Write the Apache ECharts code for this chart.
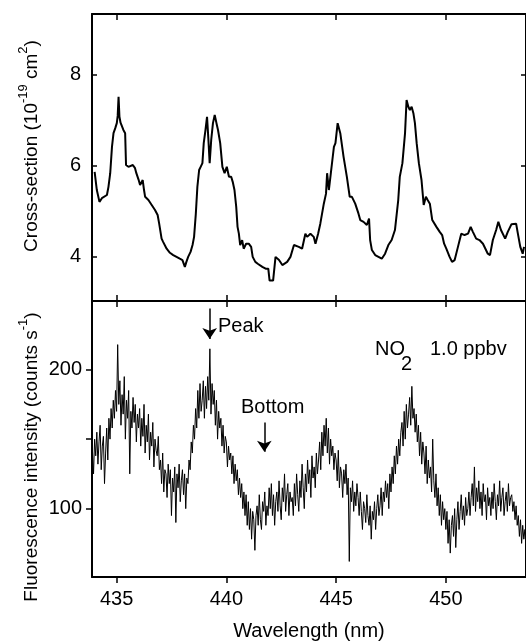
<!DOCTYPE html>
<html>
<head>
<meta charset="utf-8">
<script src="https://cdn.jsdelivr.net/npm/echarts@6/dist/echarts.min.js"></script>
<style>
  html, body { margin: 0; padding: 0; background: #fff; }
  #chart { width: 526px; height: 644px; }
</style>
</head>
<body>
<div id="chart"></div>
<script>
// NO2 absorption cross-section (top panel)
const csWl = [
  434.0, 434.1, 434.22, 434.33, 434.56, 434.63, 434.71, 434.79, 434.86, 434.94,
  435.01, 435.05, 435.09, 435.13, 435.18, 435.31, 435.39, 435.43, 435.54, 435.62,
  435.74, 435.84, 435.9, 436.0, 436.07, 436.19, 436.25, 436.3, 436.37, 436.45,
  436.6, 436.75, 436.87, 436.94, 437.05, 437.12, 437.28, 437.43, 437.58, 437.73,
  437.88, 438.0, 438.11, 438.18, 438.26, 438.37, 438.46, 438.53, 438.61, 438.68,
  438.76, 438.83, 438.91, 438.97, 439.05, 439.12, 439.18, 439.24, 439.31, 439.39,
  439.47, 439.55, 439.62, 439.72, 439.82, 439.92, 440.02, 440.12, 440.22, 440.29,
  440.37, 440.45, 440.51, 440.57, 440.63, 440.72, 440.79, 440.9, 441.02, 441.13,
  441.2, 441.32, 441.43, 441.64, 441.79, 441.91, 441.97, 442.13, 442.24, 442.4,
  442.55, 442.77, 442.92, 443.08, 443.15, 443.3, 443.45, 443.6, 443.68, 443.83,
  443.98, 444.06, 444.18, 444.28, 444.44, 444.54, 444.59, 444.67, 444.76, 444.83,
  444.9, 444.97, 445.07, 445.19, 445.34, 445.49, 445.62, 445.72, 445.87, 446.02,
  446.1, 446.25, 446.4, 446.5, 446.55, 446.63, 446.78, 446.93, 447.08, 447.23,
  447.38, 447.53, 447.68, 447.83, 447.9, 448.02, 448.14, 448.21, 448.29, 448.36,
  448.44, 448.52, 448.59, 448.67, 448.77, 448.89, 448.99, 449.09, 449.17, 449.27,
  449.38, 449.57, 449.72, 449.83, 449.92, 450.02, 450.17, 450.28, 450.4, 450.55,
  450.7, 450.85, 451.01, 451.13, 451.23, 451.38, 451.53, 451.69, 451.76, 451.91,
  452.01, 452.14, 452.29, 452.39, 452.51, 452.7, 452.82, 452.99, 453.2, 453.28,
  453.39, 453.5, 453.56
];
const csVal = [
  5.87, 5.47, 5.21, 5.29, 5.36, 5.54, 5.84, 6.42, 6.72, 6.83,
  6.94, 7.1, 7.52, 7.08, 6.95, 6.79, 6.72, 6.02, 5.98, 5.95,
  6.02, 5.95, 5.84, 5.7, 5.58, 5.69, 5.47, 5.32, 5.36, 5.25,
  5.14, 5.03, 4.92, 4.73, 4.4, 4.33, 4.18, 4.09, 4.04, 4.0,
  3.96, 3.93, 3.78, 3.89, 4.0, 4.11, 4.26, 4.44, 4.95, 5.54,
  5.91, 5.98, 6.06, 6.5, 6.79, 7.08, 6.6, 6.06, 6.57, 6.94,
  7.12, 6.94, 6.79, 6.5, 5.98, 5.84, 5.98, 5.76, 5.76, 5.65,
  5.47, 5.1, 4.66, 4.51, 4.26, 4.37, 4.18, 4.29, 4.29, 4.22,
  4.0, 3.89, 3.85, 3.78, 3.74, 3.74, 3.48, 3.48, 4.0, 3.93,
  3.82, 3.89, 4.0, 4.26, 4.22, 4.22, 4.18, 4.51, 4.44, 4.51,
  4.44, 4.29, 4.51, 4.73, 5.17, 5.39, 5.84, 5.47, 5.84, 6.13,
  6.42, 6.5, 6.94, 6.72, 6.2, 5.76, 5.32, 5.32, 5.17, 4.95,
  4.81, 4.77, 4.7, 4.84, 4.37, 4.15, 4.04, 4.0, 3.96, 4.07,
  4.26, 4.37, 4.59, 5.25, 5.76, 6.06, 6.72, 7.45, 7.3, 7.23,
  7.3, 7.16, 6.94, 6.5, 6.06, 5.69, 5.14, 5.32, 5.25, 5.17,
  4.81, 4.66, 4.55, 4.48, 4.29, 4.18, 4.0, 3.89, 3.93, 4.22,
  4.51, 4.48, 4.51, 4.66, 4.55, 4.4, 4.37, 4.29, 4.33, 4.07,
  4.04, 4.37, 4.59, 4.77, 4.59, 4.4, 4.55, 4.72, 4.73, 4.51,
  4.22, 4.07, 4.22
];

// fluorescence signal (bottom panel), one reading every 0.05 nm from 433.90 nm
const flStart = 433.9;
const flStep = 0.05;
const flVal = [
  142, 125,
  150, 138, 155, 132, 148, 160, 128, 145, 152, 118, 140, 158, 135, 165, 150, 172, 158, 178, 165, 185,
  170, 218, 175, 192, 160, 182, 168, 195, 150, 178, 165, 185, 125, 170, 158, 180, 162, 175, 148, 168,
  158, 172, 145, 165, 152, 175, 140, 160, 148, 168, 135, 155, 145, 162, 130, 150, 142, 138, 152, 128,
  135, 118, 140, 112, 128, 125, 108, 132, 118, 128, 95, 122, 112, 130, 90, 125, 115, 132, 105, 120,
  128, 110, 125, 100, 122, 118, 135, 128, 148, 140, 160, 150, 172, 158, 185, 165, 190, 170, 178, 192,
  165, 188, 172, 195, 178, 215, 168, 190, 175, 185, 160, 178, 150, 170, 158, 165, 145, 160, 140, 152,
  148, 130, 145, 135, 140, 125, 138, 118, 132, 120, 128, 110, 122, 108, 118, 100, 112, 95, 110, 88,
  105, 85, 100, 78, 98, 92, 70, 95, 102, 88, 110, 92, 85, 105, 98, 112, 88, 102, 95, 115,
  100, 118, 95, 110, 88, 105, 112, 98, 120, 102, 92, 115, 105, 125, 98, 110, 118, 95, 112, 105,
  108, 95, 118, 102, 125, 110, 98, 120, 108, 132, 115, 100, 125, 112, 135, 118, 128, 108, 138, 122,
  130, 115, 140, 125, 135, 148, 128, 155, 138, 160, 145, 165, 140, 158, 132, 150, 138, 145, 128, 140,
  135, 120, 142, 115, 130, 125, 108, 128, 118, 132, 110, 122, 62, 115, 105, 120, 98, 112, 102, 118,
  108, 95, 112, 98, 85, 105, 100, 90, 110, 95, 88, 102, 78, 98, 92, 105, 85, 100, 110, 95,
  102, 115, 95, 112, 105, 120, 108, 118, 100, 125, 112, 130, 118, 138, 125, 145, 132, 150, 138, 155,
  162, 145, 170, 150, 175, 158, 168, 180, 160, 188, 165, 172, 155, 168, 148, 160, 138, 155, 132, 148,
  140, 125, 145, 118, 135, 122, 130, 112, 150, 120, 108, 125, 102, 115, 95, 110, 88, 105, 92, 100,
  85, 98, 75, 92, 68, 88, 95, 80, 100, 72, 92, 105, 85, 98, 110, 92, 102, 88, 108, 95,
  100, 112, 95, 108, 118, 102, 130, 98, 115, 105, 120, 100, 112, 95, 118, 105, 110, 92, 115, 102,
  108, 95, 112, 100, 118, 105, 92, 110, 102, 120, 98, 108, 115, 95, 105, 112, 98, 118, 102, 108,
  110, 98, 105, 92, 102, 88, 95, 80, 92, 75, 88, 78, 85, 72, 82
];

const xTicks = [435, 440, 445, 450];
const csTicks = [4, 6, 8];
const flTicks = [100, 150, 200];
const flLabels = [100, 200];
// annotation arrows: [wavelength, counts] from -> to
const peakArrow = [[439.24, 244], [439.24, 222]];
const bottomArrow = [[441.73, 162], [441.73, 141]];

const FONT = '"Liberation Sans", Arial, sans-serif';
const INK = '#000';
const X_MIN = 433.88, X_MAX = 453.65;

const line = { lineStyle: { color: INK, width: 2 } };

function xAxis(grid, pos, opts) {
  return Object.assign({
    type: 'value', gridIndex: grid, position: pos, min: X_MIN, max: X_MAX,
    axisLine: line, splitLine: { show: false },
    axisTick: { inside: true, length: 6, customValues: xTicks, lineStyle: { color: INK, width: 1.5 } },
    axisLabel: { show: false },
  }, opts);
}

function yAxis(grid, pos, min, max, opts) {
  return Object.assign({
    type: 'value', gridIndex: grid, position: pos, min: min, max: max,
    axisLine: line, splitLine: { show: false },
    axisTick: { show: false },
    axisLabel: { show: false },
  }, opts);
}

// rotated y-axis titles with superscripts
const titleRich = {
  m: { fontFamily: FONT, fontSize: 19, lineHeight: 24, verticalAlign: 'bottom' },
  s: { fontFamily: FONT, fontSize: 13, lineHeight: 16, verticalAlign: 'top' },
};

const chart = echarts.init(document.getElementById('chart'), null, { renderer: 'canvas' });

const labelStyle = { color: INK, fontFamily: FONT, fontSize: 20 };

chart.setOption({
  animation: false,
  backgroundColor: '#fff',
  grid: [
    { left: 92, top: 14, width: 436, height: 287 },
    { left: 92, top: 301, width: 436, height: 276 },
  ],
  xAxis: [
    xAxis(0, 'bottom'),
    xAxis(0, 'top'),
    xAxis(1, 'bottom', {
      axisTick: { inside: false, length: 6, customValues: xTicks, lineStyle: { color: INK, width: 1.5 } },
      axisLabel: Object.assign({ show: true, margin: 12, customValues: xTicks }, labelStyle),
      name: 'Wavelength (nm)', nameLocation: 'middle', nameGap: 44,
      nameTextStyle: labelStyle,
    }),
    xAxis(1, 'top'),
  ],
  yAxis: [
    yAxis(0, 'left', 3.03, 9.34, {
      axisTick: { inside: true, length: 5, customValues: csTicks, lineStyle: { color: INK, width: 1.5 } },
      axisLabel: Object.assign({ show: true, margin: 11, customValues: csTicks }, labelStyle),
    }),
    yAxis(0, 'right', 3.03, 9.34, {
      axisTick: { inside: true, length: 5, customValues: csTicks, lineStyle: { color: INK, width: 1.5 } },
    }),
    yAxis(1, 'left', 50.8, 249.4, {
      axisTick: { inside: false, length: 6, customValues: flTicks, lineStyle: { color: INK, width: 1.5 } },
      axisLabel: Object.assign({ show: true, margin: 10, customValues: flLabels }, labelStyle),
    }),
    yAxis(1, 'right', 50.8, 249.4),
  ],
  series: [
    {
      type: 'line', xAxisIndex: 0, yAxisIndex: 0,
      data: csWl.map((w, i) => [w, csVal[i]]),
      showSymbol: false, silent: true,
      lineStyle: { color: INK, width: 2 },
    },
    {
      type: 'line', xAxisIndex: 2, yAxisIndex: 2,
      data: flVal.map((v, i) => [flStart + i * flStep, v]),
      showSymbol: false, silent: true,
      lineStyle: { color: INK, width: 1 },
      markLine: {
        silent: true,
        symbol: ['none', 'arrow'],
        symbolSize: 11,
        label: { show: false },
        lineStyle: { color: INK, width: 1.5, type: 'solid' },
        data: [
          [{ coord: peakArrow[0] }, { coord: peakArrow[1] }],
          [{ coord: bottomArrow[0] }, { coord: bottomArrow[1] }],
        ],
      },
    },
  ],
  graphic: [
    {
      type: 'text', x: 29, y: 146, rotation: Math.PI / 2,
      style: {
        text: '{m|Cross-section (10}{s|-19}{m| cm}{s|2}{m|)}',
        align: 'center', verticalAlign: 'middle', fill: INK, rich: titleRich,
      },
    },
    {
      type: 'text', x: 29, y: 457, rotation: Math.PI / 2,
      style: {
        text: '{m|Fluorescence intensity (counts s}{s|-1}{m|)}',
        align: 'center', verticalAlign: 'middle', fill: INK, rich: titleRich,
      },
    },
    { type: 'text', x: 218, y: 326, style: { text: 'Peak', fontFamily: FONT, fontSize: 20, fill: INK, verticalAlign: 'middle' } },
    { type: 'text', x: 241, y: 407, style: { text: 'Bottom', fontFamily: FONT, fontSize: 20, fill: INK, verticalAlign: 'middle' } },
    { type: 'text', x: 375, y: 349, style: { text: 'NO', fontFamily: FONT, fontSize: 20, fill: INK, verticalAlign: 'middle' } },
    { type: 'text', x: 401, y: 364, style: { text: '2', fontFamily: FONT, fontSize: 20, fill: INK, verticalAlign: 'middle' } },
    { type: 'text', x: 430, y: 349, style: { text: '1.0 ppbv', fontFamily: FONT, fontSize: 20, fill: INK, verticalAlign: 'middle' } },
  ],
});
</script>
</body>
</html>
